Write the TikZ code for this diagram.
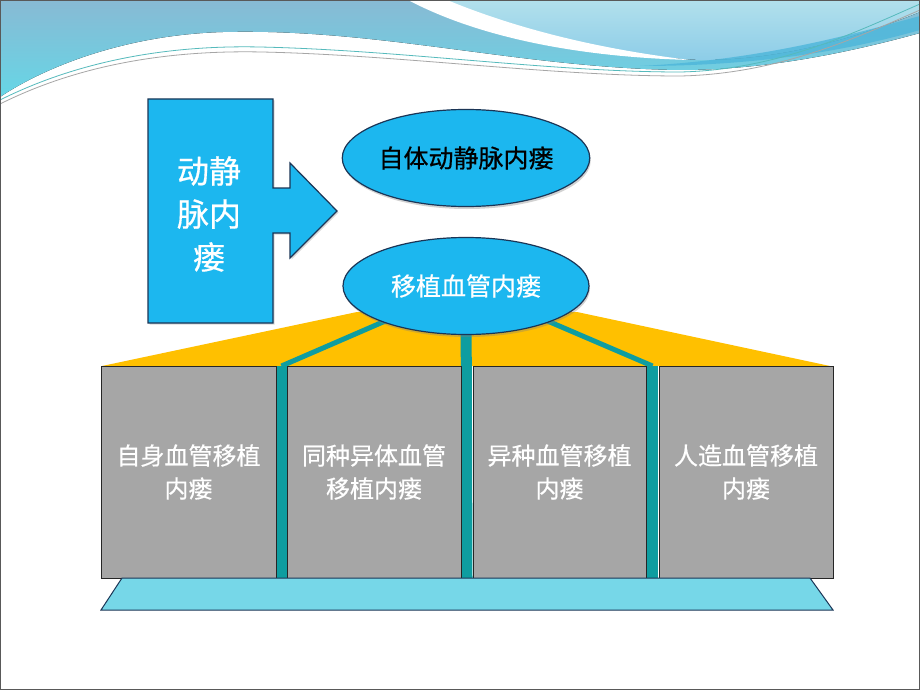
\documentclass[tikz,border=0pt]{standalone}
\usepackage{fontspec}
\setmainfont{Noto Sans CJK SC}[FakeBold=0.6]
\usetikzlibrary{shapes.geometric,shadows}
\definecolor{skyb}{HTML}{1CB7EF}
\definecolor{navy}{HTML}{1B3556}
\definecolor{gold}{HTML}{FFC000}
\definecolor{tealc}{HTML}{0E9DA0}
\definecolor{grayb}{HTML}{A6A6A6}
\definecolor{plat}{HTML}{76D7E8}
\definecolor{steel}{HTML}{88BAD4}
\definecolor{cyanl}{HTML}{66D6E6}
\definecolor{lightb}{HTML}{B2E0EC}
\definecolor{lightb2}{HTML}{8DCDE8}
\definecolor{bandb}{HTML}{4DB6DA}
\tikzset{
  ovalbox/.style={ellipse, draw=navy, line width=1.2pt, fill=skyb, minimum width=246pt, minimum height=97pt, inner sep=0pt,
    drop shadow={opacity=0.35, shadow xshift=1pt, shadow yshift=-2.5pt}},
  graybox/.style={rectangle, draw=black!85, line width=0.9pt, fill=grayb, minimum height=212pt, inner sep=0pt, align=center,
    text=white, font=\fontsize{24}{33}\selectfont},
  diag/.style={tealc, line width=5pt},
  bar/.style={tealc, line width=11pt},
}
\begin{document}
\begin{tikzpicture}[x=1pt,y=-1pt]
\useasboundingbox (0,0) rectangle (920,690);
\fill[white] (0,0) rectangle (920,690);
% banner
\fill[top color=steel, bottom color=cyanl] (0,0) -- (920,0) -- (920,33)
  .. controls (840,55) and (760,70) .. (680,70)
  .. controls (520,68) and (380,28) .. (223,32)
  .. controls (120,35) and (40,70) .. (0,97) -- cycle;
\fill[top color=lightb, bottom color=lightb2] (445,0) -- (920,0) -- (920,12)
  .. controls (850,40) and (780,60) .. (700,60)
  .. controls (600,55) and (520,35) .. (445,0) -- cycle;
\fill[white] (408,0) .. controls (480,38) and (580,57) .. (690,60)
  .. controls (590,48) and (510,26) .. (447,0) -- cycle;
\fill[bandb, opacity=0.8] (640,66) .. controls (760,60) and (850,35) .. (920,16)
  -- (920,30) .. controls (850,50) and (760,66) .. (640,66) -- cycle;
\draw[tealc!70, line width=0.8pt] (0,100) .. controls (80,60) and (170,45) .. (260,47)
  .. controls (400,50) and (550,72) .. (680,72) .. controls (780,70) and (860,30) .. (920,4);
\draw[gray!70, line width=0.8pt] (0,104) .. controls (80,64) and (170,50) .. (262,52)
  .. controls (400,55) and (550,76) .. (680,76) .. controls (780,74) and (860,36) .. (920,10);
% arrow box
\draw[navy, line width=1.2pt, fill=skyb, drop shadow={opacity=0.3, shadow xshift=1.5pt, shadow yshift=-1.5pt}]
  (148,99) -- (273,99) -- (273,188) -- (290,188) -- (290,163) -- (337,211)
  -- (290,258) -- (290,233) -- (273,233) -- (273,323) -- (148,323) -- cycle;
\node[text=white, align=center, font=\fontsize{32}{43}\selectfont] (avf) at (209,214) {动静\\脉内\\瘘};
% yellow fan
\coordinate (e2c) at (466,286);
\fill[gold] (102,366) -- (357,312) -- (577,312) -- (830,366) -- cycle;
\coordinate (g1) at (281.5,366);
\coordinate (g3) at (652.5,366);
\coordinate (g1b) at (281.5,578);
\coordinate (g2b) at (467,578);
\coordinate (g3b) at (652.5,578);
\draw[diag] (e2c) -- (g1);
\draw[diag] (e2c) -- (g3);
\draw[bar] (g1) -- (g1b);
\draw[bar] (g3) -- (g3b);
\draw[bar] (e2c) -- (g2b);
% boxes
\node[graybox, minimum width=175pt] (b1) at (188.5,472) {自身血管移植\\内瘘};
\node[graybox, minimum width=174pt] (b2) at (374,472) {同种异体血管\\移植内瘘};
\node[graybox, minimum width=173pt] (b3) at (559.5,472) {异种血管移植\\内瘘};
\node[graybox, minimum width=174pt] (b4) at (746,472) {人造血管移植\\内瘘};
% platform
\draw[fill=plat, draw=navy, line width=1pt] (122,578) -- (810,578) -- (833,610) -- (101,610) -- cycle;
% ellipses
\node[ovalbox, font=\fontsize{25}{28}\selectfont, text=black] (e1) at (466,158) {自体动静脉内瘘};
\node[ovalbox, font=\fontsize{25}{28}\selectfont, text=white] (e2) at (466,286) {移植血管内瘘};
% slide border
\draw[black!65, line width=1pt] (0.5,0.5) rectangle (919.5,689.5);
\end{tikzpicture}
\end{document}
